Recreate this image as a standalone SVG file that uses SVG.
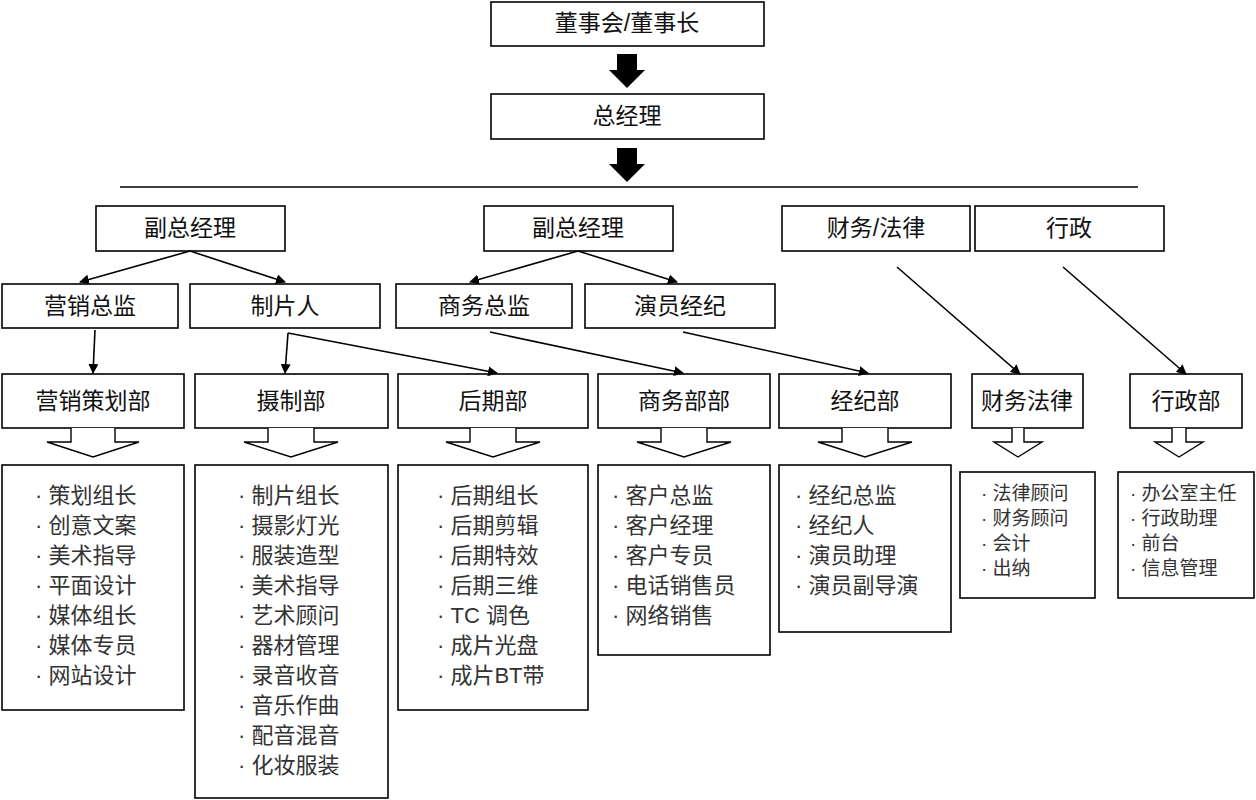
<svg xmlns="http://www.w3.org/2000/svg" width="1256" height="800" viewBox="0 0 1256 800">
<style>
rect{fill:#fff;stroke:#000;stroke-width:1.6}
text{font-family:"Liberation Sans","Noto Sans CJK SC",sans-serif;fill:#111}
.h{font-size:23px;text-anchor:middle}
.l{font-size:22px;fill:#333}
.s{font-size:19px;fill:#333}
.c line,.c polyline{stroke:#000;stroke-width:1.6;fill:none}
.ho{fill:#fff;stroke:#000;stroke-width:1.4}
</style>
<defs><marker id="a" markerWidth="10" markerHeight="10" refX="9" refY="5" orient="auto" markerUnits="userSpaceOnUse"><path d="M0,0L10,5L0,10z" fill="#000"/></marker></defs>
<rect fill="#fff" style="stroke:none" width="1256" height="800"/>
<g id="n1"><rect x="491" y="2" width="273" height="44"/><text class="h" x="627" y="31">董事会/董事长</text></g>
<g id="n2"><rect x="491" y="94" width="273" height="45"/><text class="h" x="627" y="124">总经理</text></g>
<g id="vp1"><rect x="96" y="206" width="189" height="45"/><text class="h" x="190" y="236">副总经理</text></g>
<g id="vp2"><rect x="484" y="206" width="189" height="45"/><text class="h" x="578" y="236">副总经理</text></g>
<g id="fl"><rect x="782" y="206" width="188" height="45"/><text class="h" x="876" y="236">财务/法律</text></g>
<g id="xz"><rect x="975" y="206" width="189" height="45"/><text class="h" x="1069" y="236">行政</text></g>
<g id="m1"><rect x="2" y="284" width="176" height="44"/><text class="h" x="90" y="314">营销总监</text></g>
<g id="m2"><rect x="190" y="284" width="190" height="44"/><text class="h" x="285" y="314">制片人</text></g>
<g id="m3"><rect x="396" y="284" width="176" height="44"/><text class="h" x="484" y="314">商务总监</text></g>
<g id="m4"><rect x="585" y="284" width="190" height="44"/><text class="h" x="680" y="314">演员经纪</text></g>
<g id="d1"><rect x="2" y="374" width="182" height="54"/><text class="h" x="93" y="409">营销策划部</text></g>
<g id="d2"><rect x="195" y="374" width="193" height="54"/><text class="h" x="291" y="409">摄制部</text></g>
<g id="d3"><rect x="398" y="374" width="190" height="54"/><text class="h" x="493" y="409">后期部</text></g>
<g id="d4"><rect x="598" y="374" width="172" height="54"/><text class="h" x="684" y="409">商务部部</text></g>
<g id="d5"><rect x="779" y="374" width="172" height="54"/><text class="h" x="865" y="409">经纪部</text></g>
<g id="d6"><rect x="972" y="374" width="111" height="54"/><text class="h" x="1027" y="409">财务法律</text></g>
<g id="d7"><rect x="1130" y="374" width="112" height="54"/><text class="h" x="1186" y="409">行政部</text></g>
<g id="l1"><rect x="2" y="465" width="182" height="245"/><text class="l" x="35"><tspan x="35" y="503">· 策划组长</tspan><tspan x="35" y="533">· 创意文案</tspan><tspan x="35" y="563">· 美术指导</tspan><tspan x="35" y="593">· 平面设计</tspan><tspan x="35" y="623">· 媒体组长</tspan><tspan x="35" y="653">· 媒体专员</tspan><tspan x="35" y="683">· 网站设计</tspan></text></g>
<g id="l2"><rect x="195" y="465" width="193" height="333"/><text class="l"><tspan x="238" y="503">· 制片组长</tspan><tspan x="238" y="533">· 摄影灯光</tspan><tspan x="238" y="563">· 服装造型</tspan><tspan x="238" y="593">· 美术指导</tspan><tspan x="238" y="623">· 艺术顾问</tspan><tspan x="238" y="653">· 器材管理</tspan><tspan x="238" y="683">· 录音收音</tspan><tspan x="238" y="713">· 音乐作曲</tspan><tspan x="238" y="743">· 配音混音</tspan><tspan x="238" y="773">· 化妆服装</tspan></text></g>
<g id="l3"><rect x="398" y="465" width="190" height="245"/><text class="l"><tspan x="437" y="503">· 后期组长</tspan><tspan x="437" y="533">· 后期剪辑</tspan><tspan x="437" y="563">· 后期特效</tspan><tspan x="437" y="593">· 后期三维</tspan><tspan x="437" y="623">· TC 调色</tspan><tspan x="437" y="653">· 成片光盘</tspan><tspan x="437" y="683">· 成片BT带</tspan></text></g>
<g id="l4"><rect x="598" y="465" width="172" height="190"/><text class="l"><tspan x="612" y="503">· 客户总监</tspan><tspan x="612" y="533">· 客户经理</tspan><tspan x="612" y="563">· 客户专员</tspan><tspan x="612" y="593">· 电话销售员</tspan><tspan x="612" y="623">· 网络销售</tspan></text></g>
<g id="l5"><rect x="779" y="465" width="172" height="167"/><text class="l"><tspan x="795" y="503">· 经纪总监</tspan><tspan x="795" y="533">· 经纪人</tspan><tspan x="795" y="563">· 演员助理</tspan><tspan x="795" y="593">· 演员副导演</tspan></text></g>
<g id="l6"><rect x="960" y="472" width="135" height="126"/><text class="s"><tspan x="981" y="500">· 法律顾问</tspan><tspan x="981" y="525">· 财务顾问</tspan><tspan x="981" y="550">· 会计</tspan><tspan x="981" y="575">· 出纳</tspan></text></g>
<g id="l7"><rect x="1118" y="472" width="136" height="126"/><text class="s"><tspan x="1130" y="500">· 办公室主任</tspan><tspan x="1130" y="525">· 行政助理</tspan><tspan x="1130" y="550">· 前台</tspan><tspan x="1130" y="575">· 信息管理</tspan></text></g>
<g class="c" id="connectors">
<path d="M617,54h20v16h8l-18,18l-18,-18h8z" fill="#000"/>
<path d="M617,148h20v16h8l-18,18l-18,-18h8z" fill="#000"/>
<line x1="120" y1="187" x2="1138" y2="187"/>
<line x1="190" y1="251" x2="80" y2="282" marker-end="url(#a)"/>
<line x1="190" y1="251" x2="285" y2="282" marker-end="url(#a)"/>
<line x1="578" y1="251" x2="470" y2="282" marker-end="url(#a)"/>
<line x1="578" y1="251" x2="677" y2="282" marker-end="url(#a)"/>
<line x1="897" y1="267" x2="1020" y2="374" marker-end="url(#a)"/>
<line x1="1063" y1="267" x2="1186" y2="374" marker-end="url(#a)"/>
<line x1="95" y1="330" x2="93" y2="373" marker-end="url(#a)"/>
<line x1="288" y1="333" x2="285" y2="373" marker-end="url(#a)"/>
<line x1="288" y1="333" x2="497" y2="373" marker-end="url(#a)"/>
<line x1="490" y1="332" x2="683" y2="373" marker-end="url(#a)"/>
<line x1="683" y1="332" x2="868" y2="373" marker-end="url(#a)"/>
<g class="ho">
<path d="M71,428v14h-24l46,15l46,-15h-24v-14"/>
<path d="M268,428v14h-24l47,15l47,-15h-24v-14"/>
<path d="M470,428v14h-24l47,15l47,-15h-24v-14"/>
<path d="M661,428v14h-24l47,15l47,-15h-24v-14"/>
<path d="M842,428v14h-24l47,15l47,-15h-24v-14"/>
<path d="M1012,428v14h-18l24,15l24,-15h-18v-14"/>
<path d="M1172,428v14h-17l24,15l24,-15h-17v-14"/>
</g>
</g>
</svg>
